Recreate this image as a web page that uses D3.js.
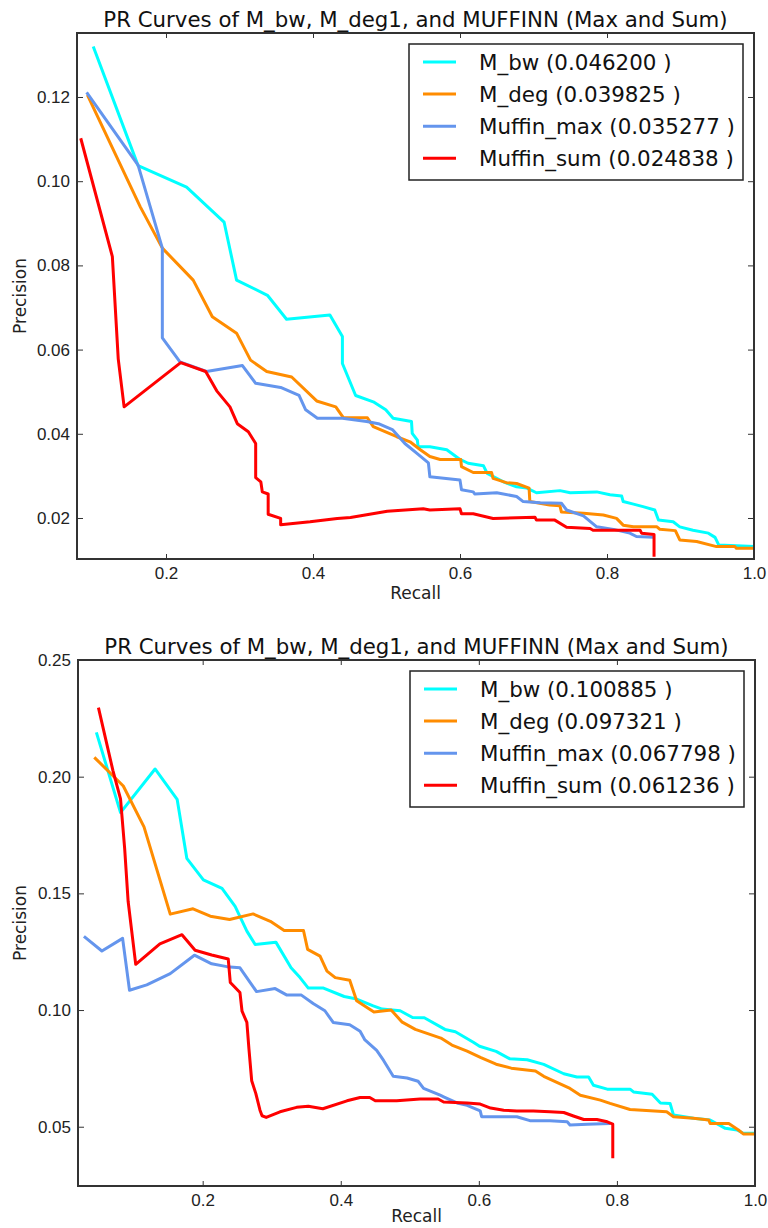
<!DOCTYPE html>
<html lang="en">
<head>
<meta charset="UTF-8">
<title>PR Curves of M_bw, M_deg1, and MUFFINN</title>
<script src="https://d3js.org/d3.v7.min.js"></script>
<style>
    body { margin: 0; background: #fff; }
    svg { display: block; font-family: "DejaVu Sans", sans-serif; }
    .curve { fill: none; stroke-width: 3px; stroke-linejoin: round; stroke-linecap: butt; }
    .tick line { stroke: #333; stroke-width: 1px; }
    .tick text { fill: #222; font-size: 17px; }
</style>
</head>
<body>
<svg id="chart" width="768" height="1228"></svg>
<script>
// series names and colours
const seriesNames = ["M_bw", "M_deg", "Muffin_max", "Muffin_sum"];
const seriesColors = ["#00ffff", "#ff8c00", "#6495ed", "#ff0000"];

// AUC values shown in the legends
const aucTop = ["0.046200", "0.039825", "0.035277", "0.024838"];
const aucBottom = ["0.100885", "0.097321", "0.067798", "0.061236"];

// tick values
const xTicks = [0.2, 0.4, 0.6, 0.8, 1.0];
const yTicksTop = [0.02, 0.04, 0.06, 0.08, 0.10, 0.12];
const yTicksBottom = [0.05, 0.10, 0.15, 0.20, 0.25];

// top panel curves: [recall, precision]
const topBw = [[0.101,0.132],[0.162,0.1037],[0.228,0.0986],[0.279,0.0903],[0.296,0.0765],[0.338,0.0729],[0.364,0.0672],[0.423,0.0682],[0.440,0.0631],[0.440,0.0567],[0.458,0.0491],[0.482,0.0476],[0.499,0.0457],[0.509,0.0437],[0.534,0.0429],[0.535,0.0401],[0.542,0.0385],[0.543,0.0369],[0.559,0.0369],[0.582,0.0362],[0.600,0.0339],[0.611,0.0330],[0.632,0.0324],[0.637,0.0306],[0.659,0.0286],[0.677,0.0274],[0.691,0.0271],[0.704,0.0260],[0.736,0.0265],[0.750,0.0260],[0.786,0.0262],[0.804,0.0255],[0.820,0.0252],[0.822,0.0239],[0.836,0.0233],[0.849,0.0227],[0.865,0.0219],[0.870,0.0195],[0.890,0.0191],[0.899,0.0179],[0.917,0.0171],[0.938,0.0164],[0.947,0.0154],[0.952,0.0136],[1.0,0.0132]];
const topDeg = [[0.093,0.1205],[0.165,0.0939],[0.195,0.0841],[0.237,0.0765],[0.263,0.0678],[0.296,0.0639],[0.315,0.0575],[0.337,0.0548],[0.371,0.0535],[0.405,0.0478],[0.431,0.0464],[0.441,0.0439],[0.474,0.0438],[0.482,0.0417],[0.514,0.0393],[0.532,0.0381],[0.546,0.0362],[0.559,0.0346],[0.573,0.0339],[0.601,0.0339],[0.602,0.0322],[0.618,0.0308],[0.643,0.0308],[0.645,0.0294],[0.663,0.0284],[0.677,0.0282],[0.694,0.0271],[0.695,0.0239],[0.722,0.0231],[0.736,0.0229],[0.738,0.0214],[0.768,0.0211],[0.795,0.0207],[0.813,0.0199],[0.822,0.0183],[0.836,0.0179],[0.868,0.0179],[0.872,0.0173],[0.893,0.0170],[0.899,0.0148],[0.922,0.0144],[0.949,0.0132],[0.974,0.0132],[0.976,0.0128],[1.0,0.0128]];
const topMax = [[0.092,0.1211],[0.162,0.1038],[0.195,0.0841],[0.195,0.0628],[0.219,0.0571],[0.255,0.0548],[0.304,0.0562],[0.322,0.0520],[0.356,0.0510],[0.381,0.0491],[0.390,0.0457],[0.406,0.0437],[0.440,0.0437],[0.473,0.0429],[0.489,0.0424],[0.508,0.0410],[0.525,0.0377],[0.541,0.0354],[0.557,0.0331],[0.559,0.0298],[0.600,0.0290],[0.602,0.0267],[0.618,0.0262],[0.620,0.0257],[0.650,0.0260],[0.677,0.0251],[0.686,0.0239],[0.709,0.0236],[0.738,0.0235],[0.745,0.0219],[0.768,0.0205],[0.786,0.0179],[0.809,0.0173],[0.831,0.0164],[0.840,0.0156],[0.863,0.0154]];
const topSum = [[0.084,0.1102],[0.127,0.0821],[0.135,0.0578],[0.143,0.0464],[0.220,0.0569],[0.254,0.0548],[0.269,0.0502],[0.287,0.0464],[0.297,0.0424],[0.312,0.0405],[0.322,0.0377],[0.322,0.0296],[0.329,0.0286],[0.331,0.0262],[0.339,0.0257],[0.339,0.0209],[0.356,0.0199],[0.356,0.0184],[0.396,0.0191],[0.433,0.0199],[0.451,0.0201],[0.501,0.0216],[0.550,0.0222],[0.559,0.0219],[0.600,0.0222],[0.602,0.0210],[0.618,0.0210],[0.645,0.0199],[0.702,0.0202],[0.704,0.0195],[0.729,0.0195],[0.745,0.0178],[0.777,0.0175],[0.781,0.0171],[0.845,0.0171],[0.847,0.0164],[0.864,0.0161],[0.864,0.0108]];

// bottom panel curves: [recall, precision]
const botBw = [[0.046,0.219],[0.081,0.1846],[0.131,0.2033],[0.163,0.1903],[0.177,0.1650],[0.201,0.1558],[0.228,0.1521],[0.247,0.1444],[0.264,0.1338],[0.276,0.1281],[0.306,0.1291],[0.328,0.1181],[0.341,0.1139],[0.353,0.1094],[0.375,0.1094],[0.405,0.1058],[0.423,0.1047],[0.447,0.1018],[0.460,0.1004],[0.486,0.0997],[0.504,0.0968],[0.521,0.0967],[0.551,0.0917],[0.566,0.0907],[0.592,0.0862],[0.601,0.0845],[0.625,0.0823],[0.645,0.0791],[0.670,0.0787],[0.694,0.0767],[0.723,0.0727],[0.742,0.0713],[0.759,0.0713],[0.766,0.0678],[0.786,0.0661],[0.819,0.0661],[0.824,0.0649],[0.851,0.0639],[0.863,0.0602],[0.877,0.0600],[0.882,0.0550],[0.911,0.0536],[0.935,0.0529],[0.957,0.0493],[0.974,0.0486],[0.983,0.0472],[1.0,0.0472]];
const botDeg = [[0.043,0.2083],[0.085,0.1960],[0.115,0.1785],[0.153,0.1411],[0.186,0.1434],[0.211,0.1402],[0.239,0.1388],[0.273,0.1412],[0.298,0.1380],[0.318,0.1341],[0.346,0.1341],[0.352,0.1260],[0.370,0.1231],[0.380,0.1167],[0.392,0.1139],[0.413,0.1128],[0.423,0.1040],[0.448,0.0992],[0.473,0.1000],[0.489,0.0948],[0.508,0.0917],[0.545,0.0880],[0.561,0.0850],[0.583,0.0824],[0.603,0.0796],[0.625,0.0768],[0.647,0.0751],[0.682,0.0739],[0.694,0.0716],[0.732,0.0664],[0.747,0.0635],[0.776,0.0614],[0.790,0.0600],[0.819,0.0574],[0.872,0.0564],[0.882,0.0543],[0.911,0.0536],[0.933,0.0529],[0.935,0.0514],[0.962,0.0514],[0.976,0.0486],[0.983,0.0469],[1.0,0.0469]];
const botMax = [[0.028,0.1316],[0.054,0.1253],[0.084,0.1307],[0.094,0.1085],[0.119,0.1108],[0.153,0.1156],[0.188,0.1235],[0.213,0.1198],[0.235,0.1186],[0.254,0.1181],[0.278,0.1079],[0.305,0.1092],[0.322,0.1064],[0.343,0.1064],[0.360,0.1028],[0.377,0.0997],[0.389,0.0947],[0.413,0.0937],[0.428,0.0909],[0.435,0.0872],[0.452,0.0827],[0.462,0.0784],[0.476,0.0716],[0.496,0.0709],[0.512,0.0695],[0.520,0.0664],[0.544,0.0635],[0.549,0.0628],[0.570,0.0600],[0.583,0.0592],[0.602,0.0568],[0.604,0.0543],[0.655,0.0543],[0.674,0.0526],[0.703,0.0526],[0.728,0.0521],[0.732,0.0507],[0.757,0.0511],[0.790,0.0514]];
const botSum = [[0.049,0.2296],[0.070,0.2026],[0.081,0.1905],[0.087,0.1692],[0.092,0.1466],[0.103,0.1196],[0.138,0.1284],[0.170,0.1323],[0.189,0.1256],[0.213,0.1236],[0.237,0.1219],[0.240,0.1118],[0.254,0.1075],[0.257,0.0995],[0.264,0.0947],[0.267,0.0834],[0.271,0.0697],[0.277,0.0642],[0.283,0.0571],[0.286,0.0547],[0.292,0.0540],[0.312,0.0564],[0.336,0.0583],[0.353,0.0588],[0.374,0.0577],[0.409,0.0611],[0.428,0.0625],[0.442,0.0625],[0.450,0.0611],[0.481,0.0611],[0.515,0.0619],[0.541,0.0619],[0.549,0.0606],[0.583,0.0602],[0.602,0.0597],[0.617,0.0580],[0.636,0.0571],[0.655,0.0567],[0.679,0.0567],[0.703,0.0564],[0.723,0.0561],[0.737,0.0546],[0.752,0.0531],[0.771,0.0531],[0.786,0.0521],[0.794,0.0511],[0.794,0.0365]];

const titleText = "PR Curves of M_bw, M_deg1, and MUFFINN (Max and Sum)";
const svg = d3.select("#chart");
const svgHeight = +svg.attr("height");

function drawPanel(id, box, xDomain, yDomain, yTicks, series, auc) {
    const x = d3.scaleLinear().domain(xDomain).range([box.left, box.right]);
    const y = d3.scaleLinear().domain(yDomain).range([box.bottom, box.top]);
    const g = svg.append("g");

    g.append("clipPath").attr("id", "clip" + id)
        .append("rect")
        .attr("x", box.left).attr("y", box.top)
        .attr("width", box.right - box.left).attr("height", box.bottom - box.top);

    const line = d3.line().x(d => x(d[0])).y(d => y(d[1]));
    g.append("g").attr("clip-path", `url(#clip${id})`)
        .selectAll("path")
        .data(series)
        .enter().append("path")
        .attr("class", "curve")
        .attr("stroke", (d, i) => seriesColors[i])
        .attr("d", d => line(d));

    // ticks point inward on all four sides, labels only bottom / left
    const noDomain = s => s.select(".domain").remove();
    g.append("g").attr("transform", `translate(0,${box.bottom})`)
        .call(d3.axisBottom(x).tickValues(xTicks).tickFormat(d3.format(".1f")).tickSize(-5).tickPadding(8))
        .call(noDomain);
    g.append("g").attr("transform", `translate(0,${box.top})`)
        .call(d3.axisTop(x).tickValues(xTicks).tickFormat("").tickSize(-5))
        .call(noDomain);
    g.append("g").attr("transform", `translate(${box.left},0)`)
        .call(d3.axisLeft(y).tickValues(yTicks).tickFormat(d3.format(".2f")).tickSize(-6).tickPadding(7))
        .call(noDomain);
    g.append("g").attr("transform", `translate(${box.right},0)`)
        .call(d3.axisRight(y).tickValues(yTicks).tickFormat("").tickSize(-6))
        .call(noDomain);
    g.selectAll(".tick text").attr("font-family", null).attr("font-size", null);

    g.append("rect")
        .attr("x", box.left).attr("y", box.top)
        .attr("width", box.right - box.left).attr("height", box.bottom - box.top)
        .attr("fill", "none").attr("stroke", "#333").attr("stroke-width", 2);

    g.append("text")
        .attr("x", (box.left + box.right) / 2).attr("y", box.top - 6)
        .attr("text-anchor", "middle").attr("font-size", 21.3).attr("fill", "#111")
        .text(titleText);

    g.append("text")
        .attr("x", (box.left + box.right) / 2)
        .attr("y", Math.min(box.bottom + 40, svgHeight - 6))
        .attr("text-anchor", "middle").attr("font-size", 17).attr("fill", "#222")
        .text("Recall");

    g.append("text")
        .attr("transform", `translate(26,${(box.top + box.bottom) / 2}) rotate(-90)`)
        .attr("text-anchor", "middle").attr("font-size", 17).attr("fill", "#222")
        .text("Precision");

    // legend
    const lx = box.right - 345, ly = box.top + 11;
    const legend = g.append("g").attr("transform", `translate(${lx},${ly})`);
    legend.append("rect")
        .attr("width", 334).attr("height", 136)
        .attr("fill", "#fff").attr("stroke", "#222").attr("stroke-width", 1.5);
    const item = legend.selectAll("g.item")
        .data(seriesNames)
        .enter().append("g")
        .attr("class", "item")
        .attr("transform", (d, i) => `translate(0,${18 + i * 32.1})`);
    item.append("line")
        .attr("x1", 14).attr("x2", 47)
        .attr("stroke", (d, i) => seriesColors[i]).attr("stroke-width", 3);
    item.append("text")
        .attr("x", 70).attr("dy", "0.36em")
        .attr("font-size", 21.4).attr("fill", "#111")
        .text((d, i) => `${d} (${auc[i]} )`);
}

drawPanel("a", {left: 77, right: 754, top: 33, bottom: 559},
    [0.0789, 1.0], [0.01026, 0.1352], yTicksTop,
    [topBw, topDeg, topMax, topSum], aucTop);
drawPanel("b", {left: 78, right: 755, top: 660, bottom: 1186},
    [0.0194, 1.0], [0.0246, 0.25], yTicksBottom,
    [botBw, botDeg, botMax, botSum], aucBottom);
</script>
</body>
</html>
